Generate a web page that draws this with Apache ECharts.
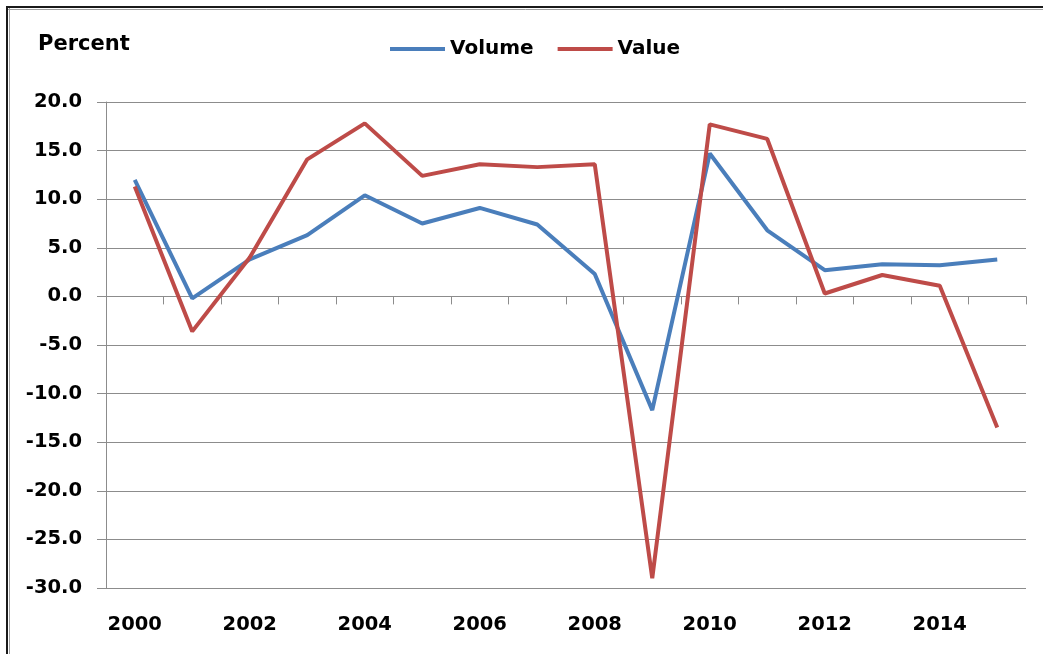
<!DOCTYPE html>
<html>
<head>
<meta charset="utf-8">
<script src="https://cdn.jsdelivr.net/npm/echarts@6/dist/echarts.min.js"></script>
<style>
html,body{margin:0;padding:0;background:#fff;overflow:hidden;}
#chart{width:1043px;height:654px;}
</style>
</head>
<body>
<div id="chart"></div>
<script>
const years = ['2000','2001','2002','2003','2004','2005','2006','2007','2008','2009','2010','2011','2012','2013','2014','2015'];
const volume = [12.0, -0.2, 3.8, 6.3, 10.4, 7.5, 9.1, 7.4, 2.3, -11.7, 14.7, 6.8, 2.7, 3.3, 3.2, 3.8];
const value = [11.3, -3.6, 4.0, 14.1, 17.8, 12.4, 13.6, 13.3, 13.6, -29.0, 17.7, 16.2, 0.3, 2.2, 1.1, -13.5];
const yTicks = {min: -30, max: 20, interval: 5};

const FONT = '"DejaVu Sans", sans-serif';
const chart = echarts.init(document.getElementById('chart'));
chart.setOption({
  animation: false,
  backgroundColor: '#fff',
  graphic: [
    {type: 'rect', shape: {x: 1034, y: 11, width: 9, height: 643}, style: {fill: '#fff'}, silent: true, z: 100},
    {type: 'line', shape: {x1: 6, y1: 7, x2: 1043, y2: 7}, style: {stroke: '#1a1a1a', lineWidth: 2}, silent: true, z: 101},
    {type: 'line', shape: {x1: 7, y1: 6, x2: 7, y2: 654}, style: {stroke: '#1a1a1a', lineWidth: 2}, silent: true, z: 101},
    {type: 'line', shape: {x1: 8, y1: 9.5, x2: 1043, y2: 9.5}, style: {stroke: '#a0a0a0', lineWidth: 1}, silent: true, z: 101},
    {type: 'line', shape: {x1: 9.5, y1: 8, x2: 9.5, y2: 654}, style: {stroke: '#a0a0a0', lineWidth: 1}, silent: true, z: 101}
  ],
  title: {
    text: 'Percent', left: 33, top: 29,
    textStyle: {fontFamily: FONT, fontSize: 21, fontWeight: 'bold', color: '#000'}
  },
  legend: {
    left: 385, top: 34,
    itemWidth: 55, itemHeight: 4, itemGap: 24,
    icon: 'rect',
    data: ['Volume', 'Value'],
    textStyle: {fontFamily: FONT, fontSize: 20, fontWeight: 'bold', color: '#000'}
  },
  grid: {left: 106, right: 17, top: 102, bottom: 66, containLabel: false},
  xAxis: [
    {
      type: 'category', data: years, position: 'bottom', boundaryGap: true,
      axisLine: {show: false, onZero: false},
      axisTick: {show: false},
      axisLabel: {interval: 1, margin: 27, fontFamily: FONT, fontSize: 19.5, fontWeight: 'bold', color: '#000'},
      splitLine: {show: false}
    },
    {
      type: 'category', data: years, position: 'bottom', boundaryGap: true,
      axisLine: {show: true, onZero: true, lineStyle: {color: '#8c8c8c', width: 1}},
      axisTick: {show: true, interval: 0, length: 8, lineStyle: {color: '#8c8c8c'}},
      axisLabel: {show: false},
      splitLine: {show: false}
    }
  ],
  yAxis: {
    type: 'value', min: yTicks.min, max: yTicks.max, interval: yTicks.interval,
    axisLine: {show: true, onZero: false, lineStyle: {color: '#8c8c8c', width: 1}},
    axisTick: {show: true, length: 9, lineStyle: {color: '#8c8c8c'}},
    axisLabel: {margin: 24, fontFamily: FONT, fontSize: 19.5, fontWeight: 'bold', color: '#000',
      formatter: v => v.toFixed(1)},
    splitLine: {show: true, lineStyle: {color: '#8c8c8c', width: 1}}
  },
  series: [
    {name: 'Volume', type: 'line', data: volume, symbol: 'none', xAxisIndex: 0,
     itemStyle: {color: '#4A7EBB'}, lineStyle: {color: '#4A7EBB', width: 4}},
    {name: 'Value', type: 'line', data: value, symbol: 'none', xAxisIndex: 0,
     itemStyle: {color: '#BE4B48'}, lineStyle: {color: '#BE4B48', width: 4}}
  ]
});
</script>
</body>
</html>
